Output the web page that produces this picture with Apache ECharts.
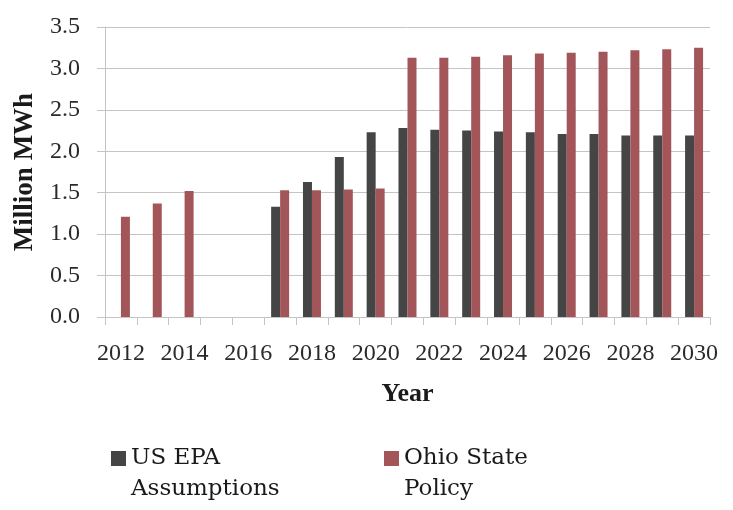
<!DOCTYPE html>
<html>
<head>
<meta charset="utf-8">
<script src="https://cdn.jsdelivr.net/npm/echarts@6/dist/echarts.min.js"></script>
<style>
html,body{margin:0;padding:0;background:#fff;}
#chart{width:733px;height:510px;}
</style>
</head>
<body>
<div id="chart"></div>
<script>
const years = ['2012','2013','2014','2015','2016','2017','2018','2019','2020','2021','2022','2023','2024','2025','2026','2027','2028','2029','2030'];
const epaValues = [null,null,null,null,null,1.33,1.63,1.93,2.23,2.28,2.26,2.25,2.24,2.23,2.21,2.21,2.19,2.19,2.19];
const ohioValues = [1.21,1.37,1.52,null,null,1.53,1.53,1.54,1.55,3.13,3.13,3.14,3.16,3.18,3.19,3.20,3.22,3.23,3.25];
const seriesNames = ['US EPA Assumptions','Ohio State Policy'];
const legendLabels = {'US EPA Assumptions':'\nUS EPA\nAssumptions','Ohio State Policy':'\nOhio State\nPolicy'};
const yTicks = {min:0,max:3.5,interval:0.5};
const colors = ['#454545','#a3565a'];

const chart = echarts.init(document.getElementById('chart'), null, {renderer:'canvas'});
const serif = 'Liberation Serif';
const legendFont = 'DejaVu Serif';
const gridColor = '#c4c4c4';
const legendBase = {
  orient:'horizontal', padding:0, itemWidth:15, itemHeight:15, icon:'rect',
  textStyle:{fontFamily:legendFont, fontSize:23, color:'#1a1a1a', lineHeight:31},
  formatter: n => legendLabels[n], selectedMode:false
};
chart.setOption({
  animation:false,
  color:colors,
  grid:{left:105,right:23,top:27,bottom:193,containLabel:false},
  legend:[
    Object.assign({}, legendBase, {data:[seriesNames[0]], left:111, top:412}),
    Object.assign({}, legendBase, {data:[seriesNames[1]], left:384, top:412})
  ],
  xAxis:{
    type:'category', data:years,
    name:'Year', nameLocation:'middle', nameGap:64,
    nameTextStyle:{fontFamily:serif, fontWeight:'bold', fontSize:26, color:'#1a1a1a'},
    axisLine:{show:true, lineStyle:{color:gridColor, width:1}},
    axisTick:{show:true, interval:0, length:8, alignWithLabel:false, lineStyle:{color:gridColor}},
    axisLabel:{interval:1, margin:25, fontFamily:serif, fontSize:24, color:'#2a2a2a'}
  },
  yAxis:{
    type:'value', min:yTicks.min, max:yTicks.max, interval:yTicks.interval,
    name:'Million MWh', nameLocation:'middle', nameGap:66, nameRotate:90,
    nameTextStyle:{fontFamily:serif, fontWeight:'bold', fontSize:27, color:'#1a1a1a'},
    axisLine:{show:true, lineStyle:{color:gridColor, width:1}},
    axisTick:{show:true, length:8, lineStyle:{color:gridColor}},
    splitLine:{show:true, lineStyle:{color:gridColor, width:1}},
    axisLabel:{margin:25, fontFamily:serif, fontSize:24, color:'#2a2a2a', formatter:v=>v.toFixed(1)}
  },
  series:[
    {name:seriesNames[0], type:'bar', data:epaValues, barWidth:9, barGap:'0%'},
    {name:seriesNames[1], type:'bar', data:ohioValues, barWidth:9, barGap:'0%'}
  ]
});
</script>
</body>
</html>
